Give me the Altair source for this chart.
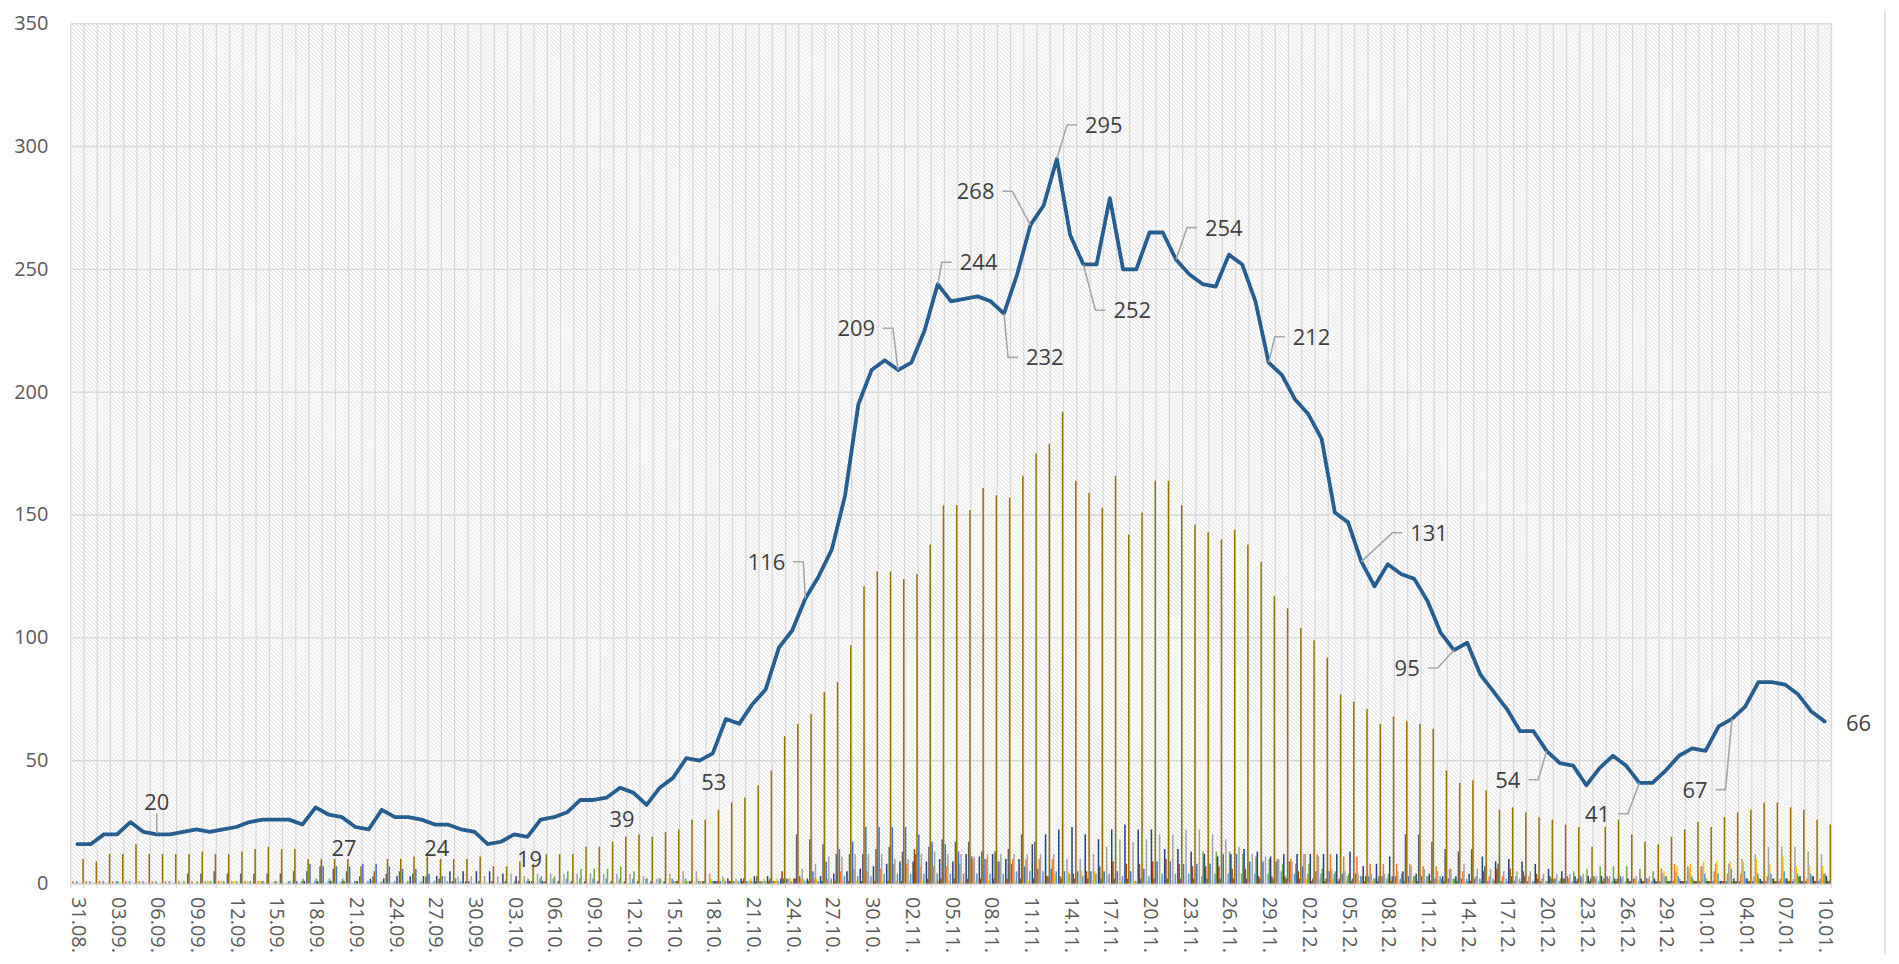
import altair as alt
import pandas as pd

# ---------------- data ----------------
N_DAYS = 133
DATES = [d.strftime("%d.%m.") for d in pd.date_range("2020-08-31", periods=N_DAYS)]

LINE = [16, 16, 20, 20, 25, 21, 20, 20, 21, 22,
        21, 22, 23, 25, 26, 26, 26, 24, 31, 28,
        27, 23, 22, 30, 27, 27, 26, 24, 24, 22,
        21, 16, 17, 20, 19, 26, 27, 29, 34, 34,
        35, 39, 37, 32, 39, 43, 51, 50, 53, 67,
        65, 73, 79, 96, 103, 116, 125, 136, 158, 195,
        209, 213, 209, 212, 225, 244, 237, 238, 239, 237,
        232, 248, 268, 276, 295, 264, 252, 252, 279, 250,
        250, 265, 265, 254, 248, 244, 243, 256, 252, 237,
        212, 207, 197, 191, 181, 151, 147, 131, 121, 130,
        126, 124, 115, 102, 95, 98, 85, 78, 71, 62,
        62, 54, 49, 48, 40, 47, 52, 48, 41, 41,
        46, 52, 55, 54, 64, 67, 72, 82, 82, 81,
        77, 70, 66]

S1 = [0, 0, 0, 0, 0, 0, 0, 0, 0, 0,
      0, 0, 0, 0, 0, 0, 0, 1, 8, 7,
      7, 7, 8, 8, 7, 6, 6, 4, 3, 2,
      1, 0, 0, 0, 0, 0, 0, 0, 0, 0,
      0, 0, 0, 0, 0, 0, 0, 0, 0, 1,
      1, 1, 1, 1, 2, 3, 5, 9, 14, 17,
      23, 23, 23, 23, 20, 17, 16, 13, 11, 10,
      9, 8, 7, 6, 6, 5, 5, 5, 5, 5,
      5, 6, 9, 9, 8, 8, 8, 12, 12, 9,
      9, 9, 9, 7, 5, 5, 4, 4, 3, 3,
      3, 3, 3, 2, 2, 2, 2, 1, 1, 1,
      1, 1, 2, 3, 3, 3, 3, 3, 2, 2,
      1, 1, 1, 1, 1, 1, 1, 1, 1, 1,
      1, 1, 1]

S2 = [1, 1, 1, 1, 1, 1, 1, 1, 1, 1,
      1, 1, 1, 1, 1, 0, 0, 0, 0, 0,
      0, 0, 0, 0, 0, 0, 0, 0, 0, 0,
      0, 0, 0, 0, 0, 0, 0, 0, 0, 0,
      0, 0, 0, 0, 0, 0, 0, 0, 0, 0,
      0, 0, 1, 1, 2, 2, 2, 2, 5, 6,
      5, 6, 8, 8, 7, 7, 7, 8, 10, 10,
      9, 10, 10, 10, 10, 0, 0, 0, 0, 0,
      0, 0, 0, 0, 0, 0, 0, 0, 0, 0,
      0, 10, 10, 12, 12, 12, 11, 11, 8, 8,
      8, 8, 7, 7, 6, 5, 3, 3, 3, 3,
      3, 2, 2, 2, 2, 2, 2, 2, 2, 2,
      6, 8, 7, 7, 5, 4, 4, 3, 3, 2,
      2, 2, 2]

S3 = [0, 0, 0, 0, 0, 0, 0, 0, 0, 0,
      0, 0, 0, 0, 0, 0, 0, 0, 0, 0,
      0, 0, 0, 0, 0, 0, 0, 0, 3, 3,
      3, 3, 3, 4, 3, 4, 4, 4, 4, 4,
      4, 4, 4, 3, 2, 4, 5, 5, 4, 3,
      2, 1, 1, 1, 2, 6, 8, 11, 11, 12,
      12, 12, 10, 10, 12, 13, 12, 12, 11, 12,
      12, 12, 12, 12, 12, 10, 10, 12, 15, 18,
      17, 18, 20, 20, 22, 22, 20, 18, 15, 12,
      11, 10, 9, 12, 11, 6, 5, 4, 4, 4,
      5, 7, 6, 5, 6, 8, 6, 6, 5, 5,
      5, 4, 4, 4, 4, 3, 3, 3, 3, 3,
      4, 5, 6, 7, 8, 8, 10, 12, 15, 15,
      15, 13, 12]

S4 = [0, 0, 0, 0, 0, 0, 0, 0, 0, 0,
      1, 1, 1, 1, 1, 1, 0, 0, 0, 0,
      0, 0, 0, 0, 0, 0, 0, 0, 0, 0,
      0, 0, 0, 0, 0, 0, 0, 0, 0, 0,
      0, 0, 0, 0, 0, 2, 1, 2, 2, 2,
      1, 2, 2, 2, 2, 2, 2, 1, 1, 1,
      1, 1, 1, 1, 1, 1, 1, 1, 1, 1,
      1, 1, 1, 1, 4, 5, 5, 5, 3, 1,
      1, 1, 0, 0, 0, 0, 0, 0, 0, 0,
      0, 0, 0, 2, 2, 2, 1, 1, 1, 1,
      1, 1, 1, 1, 1, 1, 0, 0, 0, 0,
      0, 0, 0, 0, 0, 0, 0, 0, 0, 0,
      5, 7, 8, 9, 9, 9, 9, 10, 8, 11,
      7, 7, 7]

S5 = [1, 1, 1, 1, 1, 1, 1, 1, 0, 0,
      0, 0, 0, 0, 1, 1, 1, 1, 1, 1,
      1, 1, 1, 1, 1, 1, 1, 1, 1, 1,
      0, 0, 0, 0, 1, 2, 2, 2, 2, 2,
      2, 2, 2, 2, 2, 2, 2, 1, 1, 1,
      1, 1, 1, 1, 1, 1, 1, 2, 3, 3,
      3, 4, 4, 4, 4, 4, 4, 4, 4, 4,
      4, 5, 5, 5, 5, 4, 3, 4, 4, 3,
      1, 3, 4, 4, 4, 3, 4, 4, 4, 4,
      4, 5, 4, 4, 4, 4, 3, 3, 2, 2,
      2, 3, 3, 3, 2, 2, 2, 2, 2, 2,
      1, 1, 1, 1, 1, 1, 1, 1, 1, 1,
      3, 3, 3, 4, 4, 6, 5, 4, 4, 5,
      4, 4, 4]

S6 = [0, 0, 0, 1, 0, 0, 0, 0, 1, 1,
      1, 1, 1, 1, 1, 1, 1, 2, 2, 2,
      2, 1, 0, 0, 0, 0, 0, 0, 0, 0,
      0, 0, 0, 1, 2, 3, 3, 5, 6, 6,
      6, 7, 5, 2, 2, 1, 1, 1, 1, 0,
      0, 0, 0, 0, 0, 0, 0, 0, 0, 0,
      0, 0, 0, 0, 0, 1, 0, 0, 0, 0,
      0, 0, 0, 0, 0, 0, 0, 0, 0, 0,
      0, 0, 0, 0, 0, 13, 13, 13, 12, 11,
      10, 8, 8, 8, 6, 5, 4, 3, 2, 4,
      4, 3, 3, 2, 2, 1, 1, 1, 1, 1,
      1, 1, 2, 5, 6, 7, 7, 7, 6, 5,
      3, 2, 2, 2, 1, 1, 2, 2, 2, 2,
      3, 3, 4]

S7 = [0, 0, 0, 0, 0, 0, 0, 0, 0, 0,
      0, 0, 0, 0, 0, 0, 0, 1, 1, 1,
      1, 1, 2, 2, 3, 3, 3, 3, 5, 5,
      5, 5, 4, 3, 1, 1, 0, 0, 0, 0,
      0, 0, 0, 0, 0, 0, 0, 0, 1, 2,
      2, 3, 3, 2, 2, 2, 3, 4, 5, 6,
      7, 8, 9, 9, 9, 10, 9, 12, 11, 12,
      10, 10, 16, 20, 22, 23, 20, 18, 22, 24,
      22, 22, 14, 14, 13, 12, 11, 12, 14, 13,
      11, 12, 12, 12, 12, 12, 13, 7, 8, 11,
      5, 4, 4, 3, 3, 4, 11, 9, 10, 9,
      8, 6, 5, 3, 3, 3, 2, 2, 2, 2,
      1, 1, 1, 1, 1, 2, 2, 2, 2, 2,
      3, 3, 3]

S8 = [0, 0, 0, 0, 0, 0, 0, 0, 0, 0,
      0, 0, 0, 0, 0, 0, 0, 0, 0, 0,
      0, 0, 0, 0, 0, 0, 0, 0, 0, 0,
      0, 0, 0, 0, 0, 0, 0, 0, 0, 0,
      0, 0, 0, 0, 0, 1, 1, 1, 1, 1,
      1, 1, 1, 5, 2, 1, 1, 1, 1, 1,
      1, 1, 1, 14, 2, 2, 2, 2, 2, 2,
      2, 2, 2, 3, 3, 4, 5, 7, 9, 8,
      8, 9, 10, 8, 7, 7, 7, 6, 6, 3,
      3, 3, 5, 1, 1, 1, 1, 1, 1, 1,
      1, 1, 1, 1, 1, 1, 5, 6, 6, 5,
      4, 3, 2, 1, 1, 1, 1, 1, 1, 1,
      1, 1, 1, 1, 1, 1, 1, 1, 1, 1,
      1, 1, 1]

S9 = [0, 0, 0, 0, 0, 0, 0, 0, 4, 4,
      5, 4, 4, 4, 4, 4, 5, 5, 7, 6,
      5, 3, 3, 4, 5, 4, 3, 2, 1, 1,
      1, 1, 1, 1, 1, 1, 1, 1, 1, 1,
      1, 1, 1, 1, 1, 1, 1, 1, 1, 1,
      2, 3, 2, 2, 20, 18, 16, 12, 12, 12,
      14, 15, 13, 12, 15, 18, 17, 17, 13, 13,
      14, 20, 17, 3, 2, 2, 2, 2, 2, 2,
      2, 2, 2, 2, 2, 2, 2, 2, 2, 2,
      2, 2, 2, 2, 2, 2, 2, 3, 3, 3,
      20, 20, 17, 14, 13, 14, 7, 8, 3, 3,
      2, 2, 2, 2, 2, 2, 2, 1, 1, 1,
      1, 1, 1, 1, 1, 1, 1, 1, 1, 1,
      1, 1, 1]

S10 = [10, 9, 12, 12, 16, 12, 12, 12, 12, 13,
       12, 12, 13, 14, 15, 14, 14, 10, 10, 10,
       10, 7, 5, 10, 10, 11, 11, 10, 10, 10,
       11, 7, 7, 9, 8, 12, 12, 12, 15, 15,
       17, 19, 20, 19, 21, 22, 26, 26, 30, 33,
       35, 40, 46, 60, 65, 69, 78, 82, 97, 121,
       127, 127, 124, 126, 138, 154, 154, 152, 161, 158,
       157, 166, 175, 179, 192, 164, 159, 153, 166, 142,
       151, 164, 164, 154, 146, 143, 140, 144, 138, 131,
       117, 112, 104, 99, 92, 77, 74, 71, 65, 68,
       66, 65, 63, 46, 41, 42, 38, 30, 31, 29,
       27, 26, 24, 23, 15, 23, 26, 20, 17, 16,
       19, 22, 25, 23, 27, 29, 30, 33, 33, 31,
       30, 26, 24]

SERIES = [S1, S2, S3, S4, S5, S6, S7, S8, S9, S10]
SERIES_NAMES = [f"Serie {k}" for k in range(1, 11)]
COLORS = ["#4472C4", "#ED7D31", "#A5A5A5", "#FFC000", "#5B9BD5",
          "#70AD47", "#264478", "#9E480E", "#636363", "#997300"]

# Data labels on the line: index -> (dx px, dy px, leader type)
LABEL_LAYOUT = {
    6: (0, -31, "v"), 20: (2, 32, None), 27: (2, 25, None), 34: (2, 23, None),
    41: (2, 32, None), 48: (1, 30, None), 55: (-39, -36, "h"), 62: (-42, -41, "h"),
    65: (41, -21, "h"), 70: (41, 45, "h"), 72: (-55, -33, "h"), 74: (47, -33, "h"),
    76: (49, 47, "h"), 83: (48, -31, "h"), 90: (43, -25, "h"), 97: (68, -28, "h"),
    104: (-47, 19, "h"), 111: (-39, 30, "h"), 118: (-42, 32, "h"), 125: (-37, 72, "h"),
    132: (34, 3, None),
}

# ---------------- layout ----------------
W, H = 1767, 863
YMAX = 350
BAR_STEP = 0.0956     # spacing of the 10 bars of one day (category units)
BAR_W = 0.115         # drawn width of each bar (category units)
FONT = "Open Sans"
LABEL_FS = 22
UX = N_DAYS / W       # category units per px
UY = YMAX / H         # value units per px
HATCH_STEP = 4

xs = alt.Scale(domain=[-0.5, N_DAYS - 0.5], nice=False, zero=False)
ys = alt.Scale(domain=[0, YMAX], nice=False, zero=False)

label_expr = "[" + ",".join(f"'{d}'" for d in DATES) + "][datum.value]"
x_axis = alt.Axis(values=list(range(0, N_DAYS, 3)), labelExpr=label_expr, labelAngle=90,
                  labelAlign="left", labelBaseline="middle", labelPadding=13,
                  labelFontSize=20, labelFont=FONT, labelColor="#595959",
                  ticks=False, domain=False, grid=False, title=None,
                  labelOverlap=False, labelFlush=False)
y_axis = alt.Axis(values=list(range(0, YMAX + 1, 50)), labelFontSize=20, labelFont=FONT,
                  labelColor="#595959", labelPadding=23, ticks=False, domain=False,
                  grid=False, title=None)

# bars
rows = []
for k, (name, vals) in enumerate(zip(SERIES_NAMES, SERIES)):
    for i, v in enumerate(vals):
        c = i + (k - 4.5) * BAR_STEP
        rows.append({"i": i, "series": name, "v": v, "z": 0,
                     "x0": c - BAR_W / 2, "x1": c + BAR_W / 2})
bars_df = pd.DataFrame(rows)

line_df = pd.DataFrame({"i": list(range(N_DAYS)), "v": LINE})

# labels + leaders
txt_rows, lead_rows = [], []
for idx, (dx, dy, kind) in LABEL_LAYOUT.items():
    v = LINE[idx]
    txt_rows.append({"tx": idx + dx * UX, "ty": v - dy * UY, "t": str(v)})
    halfw = len(str(v)) * 0.572 * LABEL_FS / 2
    if kind == "h":
        sgn = 1 if dx < 0 else -1
        sx = dx + sgn * (halfw + 8)
        bx = sx + sgn * 10
        pts = [(sx, dy - 1), (bx, dy - 1), (0, 0)]
    elif kind == "v":
        pts = [(0, dy + 10), (0, -1)]
    else:
        pts = []
    for o, (px, py) in enumerate(pts):
        lead_rows.append({"lid": idx, "o": o, "lx": idx + px * UX, "ly": v - py * UY})
txt_df = pd.DataFrame(txt_rows)
lead_df = pd.DataFrame(lead_rows)

vgrid_df = pd.DataFrame({"b": [k - 0.5 for k in range(N_DAYS + 1)]})
hgrid_df = pd.DataFrame({"g": list(range(0, YMAX + 1, 50))})

# hatch pattern of the plot background (45 degree "\" lines), clipped to the plot
hatch_rows = []
for c in range(-H, W + 1, HATCH_STEP):
    hatch_rows.append({"hx": -0.5 + c * UX, "hy": YMAX,
                       "hx2": -0.5 + (c + H) * UX, "hy2": 0})
hatch_df = pd.DataFrame(hatch_rows)

bg = alt.Chart(pd.DataFrame({"a": [0]})).mark_rect(fill="#ffffff", strokeWidth=0).encode(
    x=alt.value(0), x2=alt.value(W), y=alt.value(0), y2=alt.value(H))

hatch = alt.Chart(hatch_df).mark_rule(color="#dcdcdc", strokeWidth=1, clip=True).encode(
    x=alt.X("hx:Q", scale=xs, axis=x_axis), x2="hx2:Q",
    y=alt.Y("hy:Q", scale=ys, axis=y_axis), y2="hy2:Q")

vgrid = alt.Chart(vgrid_df).mark_rule(color="#d9d9d9", strokeWidth=1.3).encode(
    x=alt.X("b:Q", scale=xs, axis=x_axis), y=alt.value(0), y2=alt.value(H + 5))

hgrid = alt.Chart(hgrid_df).mark_rule(color="#d9d9d9").encode(
    y=alt.Y("g:Q", scale=ys, axis=y_axis), x=alt.value(0), x2=alt.value(W),
    size=alt.condition("datum.g == 0", alt.value(2.5), alt.value(1.4)))

bars = alt.Chart(bars_df).mark_rect(strokeWidth=0).encode(
    x=alt.X("x0:Q", scale=xs, axis=x_axis), x2="x1:Q",
    y=alt.Y("v:Q", scale=ys, axis=y_axis), y2="z:Q",
    color=alt.Color("series:N", scale=alt.Scale(domain=SERIES_NAMES, range=COLORS), legend=None))

line = alt.Chart(line_df).mark_line(color="#255E91", strokeWidth=3.8, strokeJoin="round",
                                    strokeCap="round").encode(
    x=alt.X("i:Q", scale=xs, axis=x_axis), y=alt.Y("v:Q", scale=ys, axis=y_axis))

leaders = alt.Chart(lead_df).mark_line(color="#a6a6a6", strokeWidth=1.6).encode(
    x=alt.X("lx:Q", scale=xs, axis=x_axis), y=alt.Y("ly:Q", scale=ys, axis=y_axis),
    detail="lid:N", order="o:Q")

labels = alt.Chart(txt_df).mark_text(font=FONT, fontSize=LABEL_FS, color="#404040",
                                     align="center", baseline="middle").encode(
    x=alt.X("tx:Q", scale=xs, axis=x_axis), y=alt.Y("ty:Q", scale=ys, axis=y_axis), text="t:N")

border = alt.Chart(pd.DataFrame({"a": [0]})).mark_rule(color="#d9d9d9", strokeWidth=1.3).encode(
    x=alt.value(1821), y=alt.value(-14), y2=alt.value(H + 71))

chart = alt.layer(bg, hatch, vgrid, hgrid, bars, line, leaders, labels, border).properties(
    width=W, height=H,
    padding={"left": 63, "top": 14, "right": 60, "bottom": 71},
    autosize=alt.AutoSizeParams(type="none"),
).configure_view(stroke=None).configure(background="#ffffff")

chart.save("out.html", embed_options={"renderer": "svg", "actions": False})
